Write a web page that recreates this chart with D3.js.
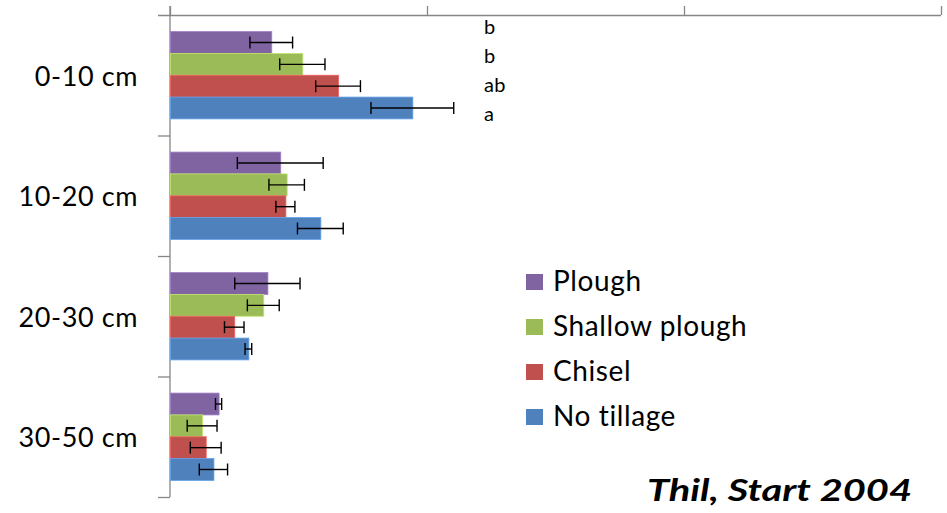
<!DOCTYPE html>
<html>
<head>
<meta charset="utf-8">
<script src="https://cdn.jsdelivr.net/npm/d3@7/dist/d3.min.js"></script>
<style>
  html, body { margin: 0; padding: 0; background: #fff; }
  svg { display: block; }
  text { font-family: Lato, "Noto Sans", sans-serif; }
</style>
</head>
<body>
<svg id="chart" width="947" height="513"></svg>
<script>
// Soil depth layers (top to bottom)
const depths = ["0-10 cm", "10-20 cm", "20-30 cm", "30-50 cm"];
// Tillage treatments, drawn top to bottom within each layer
const treatments = ["Plough", "Shallow plough", "Chisel", "No tillage"];
const colors = ["#8064A2", "#9BBB59", "#C0504D", "#4F81BD"];

// Mean values per treatment, one entry per depth layer
const plough        = [39.4, 42.9, 37.9, 18.9];
const shallowPlough = [51.5, 45.4, 36.3, 12.5];
const chisel        = [65.4, 44.9, 25.0, 13.9];
const noTillage     = [94.3, 58.5, 30.5, 16.9];

// Error bar half-widths per treatment
const ploughErr        = [8.3, 16.7, 12.7, 1.2];
const shallowPloughErr = [8.8, 6.9, 6.2, 5.8];
const chiselErr        = [8.7, 3.7, 3.8, 6.0];
const noTillageErr     = [16.1, 8.9, 1.3, 5.5];

// Significance letters for the 0-10 cm layer
const letters = ["b", "b", "ab", "a"];
const xTicks = [0, 100, 200, 300];

const means = [plough, shallowPlough, chisel, noTillage];
const errs = [ploughErr, shallowPloughErr, chiselErr, noTillageErr];

const rows = [];
depths.forEach((d, i) => {
  treatments.forEach((t, j) => {
    rows.push({ depth: d, treatment: t, value: means[j][i], err: errs[j][i], color: colors[j] });
  });
});

const svg = d3.select("#chart");
const plotLeft = 170, plotRight = 941, plotTop = 15, plotBottom = 497;
const axisColor = "#868686";

const x = d3.scaleLinear().domain([0, 300]).range([plotLeft, plotRight]);
const y = d3.scaleBand().domain(depths).range([plotTop, plotBottom]);
const yInner = d3.scaleBand().domain(treatments).range([0, y.bandwidth()]).paddingOuter(0.76);

// Top value axis (no labels)
const xAxis = svg.append("g")
  .attr("transform", `translate(0,${plotTop})`)
  .call(d3.axisTop(x).tickValues(xTicks).tickFormat("").tickSize(9).tickSizeOuter(0));
xAxis.select(".domain").remove();
xAxis.selectAll(".tick line").attr("stroke", axisColor).attr("stroke-width", 1.3);
svg.append("line")
  .attr("x1", plotLeft - 12).attr("x2", plotRight)
  .attr("y1", plotTop + 0.5).attr("y2", plotTop + 0.5)
  .attr("stroke", axisColor).attr("stroke-width", 1.3);

// Left category axis with ticks on band boundaries
svg.append("line")
  .attr("x1", plotLeft).attr("x2", plotLeft)
  .attr("y1", plotTop - 9).attr("y2", plotBottom)
  .attr("stroke", axisColor).attr("stroke-width", 1.3);
const bounds = depths.map(d => y(d)).concat([plotBottom]).slice(1);
svg.selectAll(".ytick").data(bounds).join("line")
  .attr("class", "ytick")
  .attr("x1", plotLeft - 12).attr("x2", plotLeft)
  .attr("y1", d => d + 0.5).attr("y2", d => d + 0.5)
  .attr("stroke", axisColor).attr("stroke-width", 1.3);

// Category labels
svg.selectAll(".ylab").data(depths).join("text")
  .attr("class", "ylab")
  .attr("x", 138)
  .attr("y", d => y(d) + y.bandwidth() / 2 + 3.5)
  .attr("text-anchor", "end")
  .attr("dominant-baseline", "middle")
  .attr("font-size", 27)
  .attr("letter-spacing", 0.6)
  .attr("fill", "#000")
  .text(d => d);

// Bars
svg.selectAll(".bar").data(rows).join("rect")
  .attr("class", "bar")
  .attr("x", x(0) + 0.5)
  .attr("y", d => y(d.depth) + yInner(d.treatment))
  .attr("width", d => x(d.value) - x(0))
  .attr("height", yInner.bandwidth())
  .attr("fill", d => d.color)
  .attr("stroke", d => d3.color(d.color).brighter(0.6))
  .attr("stroke-width", 0.8);

// Error bars
const eb = svg.selectAll(".err").data(rows).join("g").attr("class", "err")
  .attr("stroke", "#000").attr("stroke-width", 1.4);
const cy = d => y(d.depth) + yInner(d.treatment) + yInner.bandwidth() / 2;
eb.append("line")
  .attr("x1", d => x(d.value - d.err)).attr("x2", d => x(d.value + d.err))
  .attr("y1", cy).attr("y2", cy);
eb.append("line")
  .attr("x1", d => x(d.value - d.err)).attr("x2", d => x(d.value - d.err))
  .attr("y1", d => cy(d) - 6).attr("y2", d => cy(d) + 6);
eb.append("line")
  .attr("x1", d => x(d.value + d.err)).attr("x2", d => x(d.value + d.err))
  .attr("y1", d => cy(d) - 6).attr("y2", d => cy(d) + 6);

// Significance letters
svg.selectAll(".letter").data(letters).join("text")
  .attr("class", "letter")
  .attr("x", 484)
  .attr("y", (d, i) => 28.5 + i * 29)
  .attr("dominant-baseline", "middle")
  .attr("font-size", 20)
  .attr("letter-spacing", 0.4)
  .attr("fill", "#000")
  .text(d => d);

// Legend
const legend = svg.append("g").attr("transform", "translate(526,281)");
const li = legend.selectAll("g").data(treatments).join("g")
  .attr("transform", (d, i) => `translate(0,${i * 45})`);
li.append("rect")
  .attr("x", 0).attr("y", -7)
  .attr("width", 17).attr("height", 16)
  .attr("fill", (d, i) => colors[i]);
li.append("text")
  .attr("x", 27).attr("y", 2.5)
  .attr("dominant-baseline", "middle")
  .attr("font-size", 28)
  .attr("letter-spacing", 0.6)
  .attr("fill", "#000")
  .text(d => d);

// Source note
svg.append("text")
  .attr("x", 912).attr("y", 501)
  .attr("text-anchor", "end")
  .attr("font-family", "'Open Sans', 'Noto Sans', sans-serif")
  .attr("font-size", 30)
  .attr("font-weight", "bold")
  .attr("font-style", "italic")
  .attr("textLength", 265)
  .attr("lengthAdjust", "spacingAndGlyphs")
  .attr("fill", "#000")
  .text("Thil, Start 2004");
</script>
</body>
</html>
